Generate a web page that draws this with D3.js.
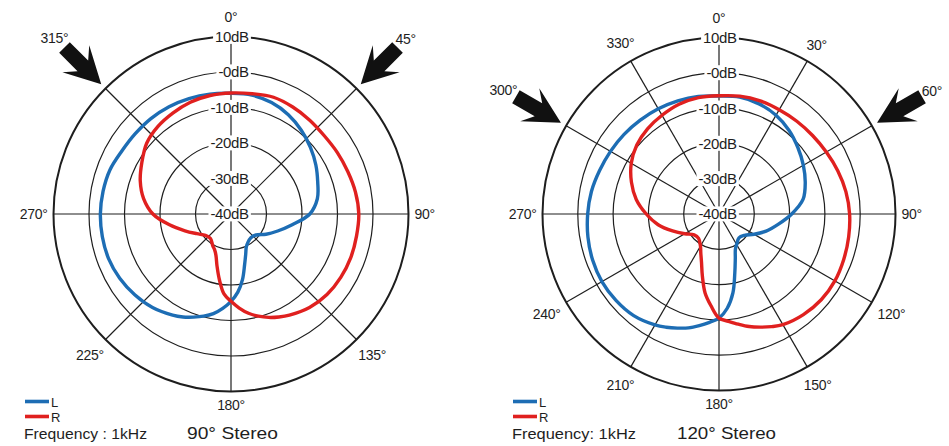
<!DOCTYPE html>
<html>
<head>
<meta charset="utf-8">
<script src="https://cdn.jsdelivr.net/npm/d3@7/dist/d3.min.js"></script>
<style>
  html, body { margin: 0; padding: 0; background: #fff; }
  svg { display: block; font-family: "Liberation Sans", Arial, Helvetica, sans-serif; }
</style>
</head>
<body>
<svg id="chart" width="949" height="446"></svg>
<script>
// Measurement angles in degrees, clockwise from the front (0°)
const angles = [0, 10, 20, 30, 40, 50, 60, 70, 80, 90, 100, 110, 120, 130, 140, 150,
  155, 160, 165, 170, 175, 180, 185, 190, 195, 200, 205,
  210, 220, 230, 240, 250, 260, 270, 280, 290, 300, 310, 320, 330, 340, 350];

// Level rings and their labels
const dbTicks = [10, 0, -10, -20, -30, -40];
const dbTickLabels = ["10dB", "-0dB", "-10dB", "-20dB", "-30dB", "-40dB"];

// 90° stereo response (dB)
const stereo90L = [-6.0, -6.0, -6.6, -7.7, -9.2, -10.8, -12.4, -14.0, -15.3, -17.8, -22.5, -26.0, -28.6, -30.8, -31.3, -30.6,
  -29.8, -27.9, -25.2, -21.3, -17.9, -15.4, -13.3, -11.5, -10.2, -9.1, -8.0,
  -7.1, -5.6, -4.6, -3.8, -3.3, -3.2, -3.2, -3.4, -3.7, -4.5, -4.8, -4.9, -5.1, -5.4, -5.7];
const stereo90R = [-5.9, -5.6, -5.0, -5.2, -5.5, -5.7, -5.4, -5.0, -4.4, -4.0, -4.1, -4.1, -4.3, -4.7, -5.6, -7.1,
  -8.0, -9.0, -10.2, -11.6, -13.4, -15.4, -17.4, -21.2, -24.8, -27.6, -29.0,
  -29.7, -31.0, -30.6, -28.9, -26.2, -22.4, -18.0, -15.0, -12.8, -11.0, -9.0, -7.9, -7.2, -6.5, -6.1];
const stereo90Spokes = [0, 45, 90, 135, 180, 225, 270, 315];
const stereo90Arrows = [315, 45];

// 120° stereo response (dB)
const stereo120L = [-6.6, -6.4, -6.8, -7.7, -9.1, -10.8, -12.4, -14.0, -15.8, -19.4, -23.0, -25.8, -28.5, -30.6, -31.2, -30.0,
  -29.0, -26.5, -22.7, -17.3, -13.2, -10.5, -9.2, -7.9, -6.6, -5.6, -4.6,
  -3.7, -2.4, -1.9, -1.7, -1.9, -2.3, -2.8, -3.3, -4.0, -4.5, -4.9, -5.3, -5.6, -5.9, -6.2];
const stereo120R = [-6.5, -6.1, -5.9, -5.9, -5.7, -5.4, -4.9, -4.2, -3.5, -3.0, -2.7, -2.4, -2.1, -2.2, -2.8, -3.8,
  -4.8, -5.9, -7.0, -8.3, -9.5, -10.5, -13.9, -17.3, -21.8, -25.5, -27.8,
  -29.5, -31.0, -30.8, -28.8, -26.0, -22.5, -19.4, -16.2, -13.6, -11.3, -9.6, -8.5, -7.7, -6.9, -6.5];
const stereo120Spokes = [0, 30, 60, 90, 120, 150, 180, 210, 240, 270, 300, 330];
const stereo120Arrows = [300, 60];

const seriesNames = ["L", "R"];
const seriesColors = ["#1d6db4", "#e0201f"];
const frequencyText = ["Frequency : 1kHz", "Frequency: 1kHz"];
const titles = ["90° Stereo", "120° Stereo"];

const charts = [
  { cx: 231, cy: 214, R: 177.5, L: stereo90L, Rs: stereo90R, spokes: stereo90Spokes, arrows: stereo90Arrows,
    freq: frequencyText[0], title: titles[0], titleX: -44, freqLen: 123, titleLen: 91 },
  { cx: 719, cy: 214, R: 176.5, L: stereo120L, Rs: stereo120R, spokes: stereo120Spokes, arrows: stereo120Arrows,
    freq: frequencyText[1], title: titles[1], titleX: -42, freqLen: 124, titleLen: 99 }
];

const svg = d3.select("#chart");
svg.append("rect").attr("width", 949).attr("height", 446).attr("fill", "#fff");

const ink = "#1e1e1e";
const rad = d => d * Math.PI / 180;

charts.forEach(c => {
  const g = svg.append("g").attr("transform", `translate(${c.cx},${c.cy})`);
  const r = d3.scaleLinear().domain([-40, 10]).range([0, c.R]);

  // level rings
  g.selectAll("circle.ring")
    .data(dbTicks.filter(d => r(d) > 0))
    .join("circle")
    .attr("class", "ring")
    .attr("r", d => r(d))
    .attr("fill", "none")
    .attr("stroke", ink)
    .attr("stroke-width", d => d === 10 ? 2 : 1.2);

  // angle spokes
  g.selectAll("line.spoke")
    .data(c.spokes)
    .join("line")
    .attr("class", "spoke")
    .attr("x1", 0).attr("y1", 0)
    .attr("x2", d => r(10) * Math.sin(rad(d)))
    .attr("y2", d => -r(10) * Math.cos(rad(d)))
    .attr("stroke", ink)
    .attr("stroke-width", 1.2);

  // response curves
  const line = d3.lineRadial()
    .angle(d => rad(d[0]))
    .radius(d => r(d[1]))
    .curve(d3.curveCatmullRomClosed.alpha(0.5));

  [c.L, c.Rs].forEach((vals, i) => {
    g.append("path")
      .datum(angles.map((a, k) => [a, vals[k]]))
      .attr("d", line)
      .attr("fill", "none")
      .attr("stroke", seriesColors[i])
      .attr("stroke-width", 3.4)
      .attr("stroke-linejoin", "round");
  });

  // dB labels on the front axis, with a white backing
  dbTicks.forEach((d, i) => {
    const lg = g.append("g");
    const t = lg.append("text")
      .attr("x", 17.5)
      .attr("y", -r(d))
      .attr("dy", "0.36em")
      .attr("text-anchor", "end")
      .attr("font-size", 15)
      .attr("letter-spacing", -0.4)
      .attr("fill", ink)
      .text(dbTickLabels[i]);
    const b = t.node().getBBox();
    lg.insert("rect", "text")
      .attr("x", b.x - 2).attr("y", b.y + 1)
      .attr("width", b.width + 4).attr("height", b.height - 2)
      .attr("fill", "#fff");
  });

  // angle labels; the front label clears the 10dB tag
  c.spokes.forEach(a => {
    const t = g.append("text")
      .attr("text-anchor", "middle")
      .attr("dy", "0.36em")
      .attr("font-size", 14)
      .attr("letter-spacing", -0.3)
      .attr("fill", ink)
      .text(a + "°");
    const w = t.node().getComputedTextLength();
    const s = Math.sin(rad(a)), co = Math.cos(rad(a));
    let lr = r(10) + 6 + Math.abs(s) * w / 2 + Math.abs(co) * 9;
    if (a === 0) lr += 5;
    if (a === 180) lr -= 2;
    if (c.arrows.includes(a)) lr += 50;
    t.attr("x", lr * s).attr("y", -lr * co);
  });

  // incoming-sound arrows aimed at the outer ring
  const arrowPath = "M0,-7.5 L26,-7.5 L16,-19 L52,0 L16,19 L26,7.5 L0,7.5 Z";
  c.arrows.forEach(a => {
    const s = Math.sin(rad(a)), co = Math.cos(rad(a));
    const tailR = r(10) + 58;
    const rot = Math.atan2(co, -s) * 180 / Math.PI;
    g.append("path")
      .attr("d", arrowPath)
      .attr("fill", "#111")
      .attr("transform", `translate(${tailR * s},${-tailR * co}) rotate(${rot})`);
  });

  // legend
  const lx = c.cx - 206;
  seriesNames.forEach((n, i) => {
    const y = 401.5 + i * 15;
    svg.append("line")
      .attr("x1", lx).attr("x2", lx + 24)
      .attr("y1", y).attr("y2", y)
      .attr("stroke", seriesColors[i])
      .attr("stroke-width", 3.6);
    svg.append("text")
      .attr("x", lx + 26).attr("y", y + 5.5)
      .attr("font-size", 13)
      .attr("fill", ink)
      .text(n);
  });
  svg.append("text")
    .attr("x", lx - 1).attr("y", 439)
    .attr("font-size", 15)
    .attr("fill", ink)
    .attr("textLength", c.freqLen)
    .attr("lengthAdjust", "spacingAndGlyphs")
    .text(c.freq);
  svg.append("text")
    .attr("x", c.cx + c.titleX).attr("y", 439)
    .attr("font-size", 17)
    .attr("fill", ink)
    .attr("textLength", c.titleLen)
    .attr("lengthAdjust", "spacingAndGlyphs")
    .text(c.title);
});
</script>
</body>
</html>
